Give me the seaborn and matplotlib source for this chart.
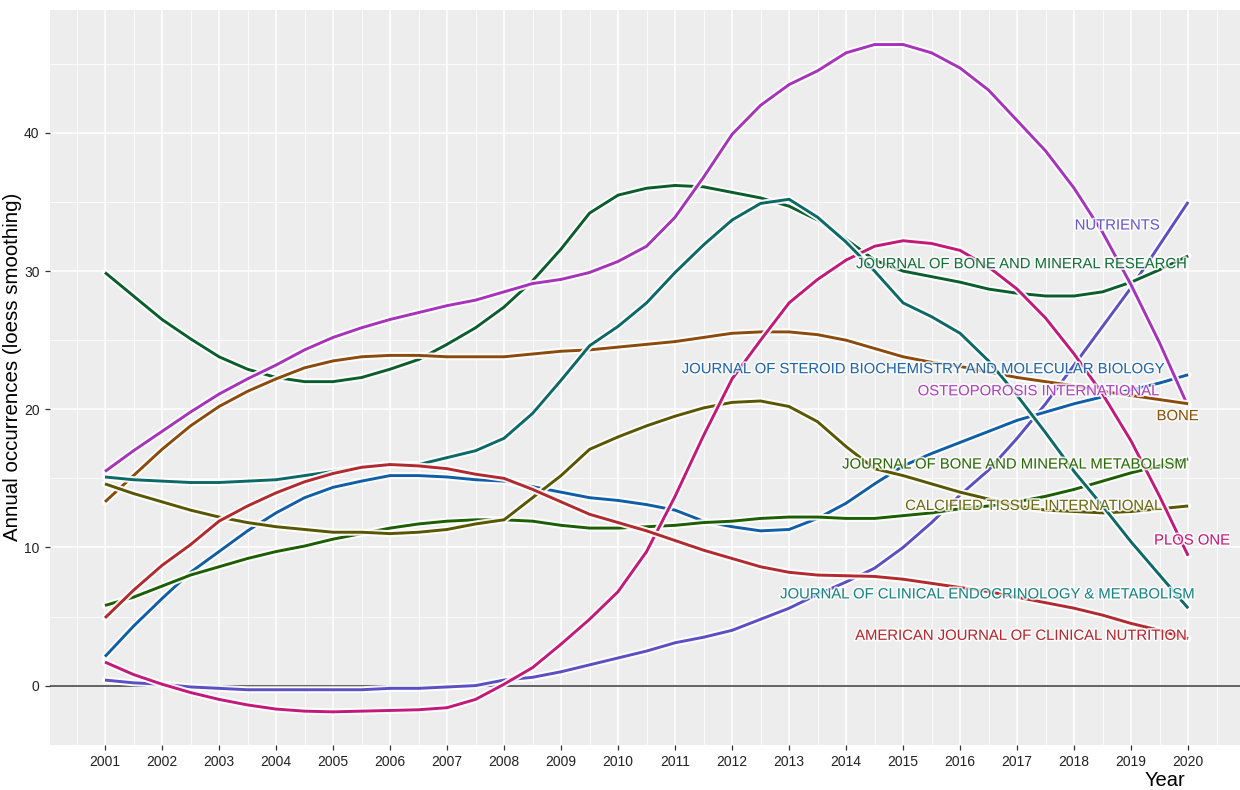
import numpy as np
import pandas as pd
import matplotlib
matplotlib.use("Agg")
import matplotlib.pyplot as plt
import matplotlib.patheffects as pe
import seaborn as sns

# half-year grid 2001.0 ... 2020.0
years = [2001 + 0.5 * i for i in range(39)]
year_ticks = list(range(2001, 2021))

nutrients = [0.4, 0.2, 0.1, -0.1, -0.2, -0.3, -0.3, -0.3, -0.3, -0.3, -0.2, -0.2, -0.1, 0.0, 0.4, 0.6, 1.0, 1.5, 2.0, 2.5,
             3.1, 3.5, 4.0, 4.8, 5.6, 6.6, 7.5, 8.5, 10.0, 11.8, 13.8, 15.6, 17.9, 20.4, 23.2, 26.0, 28.8, 31.9, 35.0]
jbmr = [29.9, 28.2, 26.5, 25.1, 23.8, 22.9, 22.3, 22.0, 22.0, 22.3, 22.9, 23.6, 24.7, 25.9, 27.4, 29.3, 31.6, 34.2, 35.5, 36.0,
        36.2, 36.1, 35.7, 35.3, 34.7, 33.7, 32.3, 30.8, 30.0, 29.6, 29.2, 28.7, 28.4, 28.2, 28.2, 28.5, 29.2, 30.1, 31.1]
jsbmb = [2.1, 4.3, 6.3, 8.2, 9.7, 11.2, 12.5, 13.6, 14.35, 14.8, 15.2, 15.2, 15.1, 14.9, 14.8, 14.4, 14.0, 13.6, 13.4, 13.1,
         12.7, 11.9, 11.5, 11.2, 11.3, 12.1, 13.2, 14.6, 15.9, 16.8, 17.6, 18.4, 19.2, 19.8, 20.4, 20.9, 21.4, 21.9, 22.5]
osteo = [15.5, 17.0, 18.4, 19.8, 21.1, 22.2, 23.2, 24.3, 25.2, 25.9, 26.5, 27.0, 27.5, 27.9, 28.5, 29.1, 29.4, 29.9, 30.7, 31.8,
         33.9, 36.8, 39.9, 42.0, 43.5, 44.5, 45.8, 46.4, 46.4, 45.8, 44.7, 43.1, 40.9, 38.7, 36.0, 32.8, 29.0, 24.8, 20.2]
bone = [13.3, 15.2, 17.1, 18.8, 20.2, 21.3, 22.2, 23.0, 23.5, 23.8, 23.9, 23.9, 23.8, 23.8, 23.8, 24.0, 24.2, 24.3, 24.5, 24.7,
        24.9, 25.2, 25.5, 25.6, 25.6, 25.4, 25.0, 24.4, 23.8, 23.4, 23.1, 22.7, 22.3, 22.0, 21.7, 21.3, 21.0, 20.7, 20.4]
jbmm = [5.8, 6.4, 7.2, 8.0, 8.6, 9.2, 9.7, 10.1, 10.6, 11.0, 11.4, 11.7, 11.9, 12.0, 12.0, 11.9, 11.6, 11.4, 11.4, 11.5,
        11.6, 11.8, 11.9, 12.1, 12.2, 12.2, 12.1, 12.1, 12.3, 12.5, 12.8, 13.0, 13.3, 13.7, 14.2, 14.8, 15.4, 15.9, 16.4]
calcified = [14.6, 13.9, 13.3, 12.7, 12.2, 11.8, 11.5, 11.3, 11.1, 11.1, 11.0, 11.1, 11.3, 11.7, 12.0, 13.6, 15.2, 17.1, 18.0, 18.8,
             19.5, 20.1, 20.5, 20.6, 20.2, 19.1, 17.3, 15.7, 15.2, 14.6, 14.0, 13.5, 13.0, 12.7, 12.6, 12.5, 12.6, 12.8, 13.0]
plos = [1.7, 0.8, 0.1, -0.5, -1.0, -1.4, -1.7, -1.85, -1.9, -1.85, -1.8, -1.75, -1.6, -1.0, 0.1, 1.3, 3.0, 4.8, 6.8, 9.7,
        13.7, 18.1, 22.2, 25.0, 27.7, 29.4, 30.8, 31.8, 32.2, 32.0, 31.5, 30.3, 28.7, 26.6, 24.0, 21.1, 17.7, 13.7, 9.4]
jcem = [15.1, 14.9, 14.8, 14.7, 14.7, 14.8, 14.9, 15.2, 15.5, 15.8, 16.0, 16.0, 16.5, 17.0, 17.9, 19.7, 22.1, 24.6, 26.0, 27.7,
        29.9, 31.9, 33.7, 34.9, 35.2, 33.9, 32.1, 30.0, 27.7, 26.7, 25.5, 23.5, 21.0, 18.3, 15.5, 13.0, 10.4, 8.0, 5.6]
ajcn = [4.9, 6.9, 8.7, 10.2, 11.9, 13.0, 13.95, 14.75, 15.35, 15.8, 16.0, 15.9, 15.7, 15.3, 15.0, 14.2, 13.3, 12.4, 11.8, 11.2,
        10.5, 9.8, 9.2, 8.6, 8.2, 8.0, 7.95, 7.9, 7.7, 7.4, 7.1, 6.8, 6.4, 6.0, 5.6, 5.1, 4.5, 4.0, 3.4]

journals = [
    "NUTRIENTS",
    "JOURNAL OF BONE AND MINERAL RESEARCH",
    "JOURNAL OF STEROID BIOCHEMISTRY AND MOLECULAR BIOLOGY",
    "OSTEOPOROSIS INTERNATIONAL",
    "BONE",
    "JOURNAL OF BONE AND MINERAL METABOLISM",
    "CALCIFIED TISSUE INTERNATIONAL",
    "PLOS ONE",
    "JOURNAL OF CLINICAL ENDOCRINOLOGY & METABOLISM",
    "AMERICAN JOURNAL OF CLINICAL NUTRITION",
]
series = [nutrients, jbmr, jsbmb, osteo, bone, jbmm, calcified, plos, jcem, ajcn]

line_colors = ["#5A4FC4", "#0B5E2C", "#0F5EA6", "#A733BB", "#8A4B0C",
               "#1C5E00", "#5A5600", "#C2197A", "#0D6868", "#B22A2E"]
label_colors = ["#6A5ACD", "#17703A", "#2166AC", "#B040C0", "#8C510A",
                "#2B6B05", "#6E6A10", "#C51B7D", "#1A8585", "#B8282E"]

# label anchor (right edge) positions in data coordinates
label_x = [2019.51, 2020.0, 2019.61, 2019.51, 2020.19, 2020.0, 2019.56, 2020.74, 2020.14, 2020.0]
label_y = [33.3, 30.5, 22.9, 21.3, 19.5, 16.0, 13.0, 10.5, 6.6, 3.6]

df = pd.DataFrame({
    "Year": np.tile(years, len(journals)),
    "value": np.concatenate([np.array(s, dtype=float) for s in series]),
    "journal": np.repeat(journals, len(years)),
})

sns.set_theme(style="darkgrid")
plt.rcParams["font.family"] = ["Liberation Sans", "DejaVu Sans"]

fig = plt.figure(figsize=(12.4, 7.9), dpi=100)
ax = fig.add_axes([50/1240, 45/790, 1190/1240, 735/790])
ax.set_facecolor("#EDEDED")

ax.axhline(0, color="#3a3a3a", lw=1.1, zorder=1)

# each series: white halo underneath, then the coloured line
for i, (name, c) in enumerate(zip(journals, line_colors)):
    sub = df[df["journal"] == name]
    sns.lineplot(data=sub, x="Year", y="value", color="white", alpha=0.92,
                 linewidth=5.0, legend=False, ax=ax, zorder=2 + 2 * i,
                 solid_capstyle="round", solid_joinstyle="round")
    sns.lineplot(data=sub, x="Year", y="value", color=c,
                 linewidth=2.1, legend=False, ax=ax, zorder=3 + 2 * i,
                 solid_capstyle="butt", solid_joinstyle="round")

for name, lx, ly, c in zip(journals, label_x, label_y, label_colors):
    ax.text(lx, ly, name, ha="right", va="center", fontsize=10.7, color=c, zorder=40,
            path_effects=[pe.withStroke(linewidth=2.5, foreground="white", alpha=0.8)])

ax.set_xlim(2000.035, 2020.91)
ax.set_ylim(-4.3, 48.9)
ax.set_xticks(year_ticks)
ax.set_xticks([y + 0.5 for y in range(2000, 2021)], minor=True)
ax.set_yticks([0, 10, 20, 30, 40])
ax.set_yticks([5, 15, 25, 35, 45], minor=True)
ax.grid(which="major", color="white", linewidth=1.1)
ax.grid(which="minor", color="white", linewidth=0.55)
ax.tick_params(axis="both", which="major", length=3.5, width=0.9, color="#333333",
               labelsize=10, labelcolor="#222222", pad=4, bottom=True, left=True)
ax.tick_params(axis="both", which="minor", length=0)
for s in ax.spines.values():
    s.set_visible(False)

ax.set_xlabel("Year", fontsize=14.5, color="black")
ax.xaxis.set_label_coords((1185-50)/1190, -0.035)
ax.xaxis.label.set_ha("right")
ax.set_ylabel("Annual occurrences (loess smoothing)", fontsize=14.8, color="black")
ax.yaxis.set_label_coords(-28/1190, (790-45-367)/735)

fig.savefig("out.png", dpi=100, facecolor="white")
